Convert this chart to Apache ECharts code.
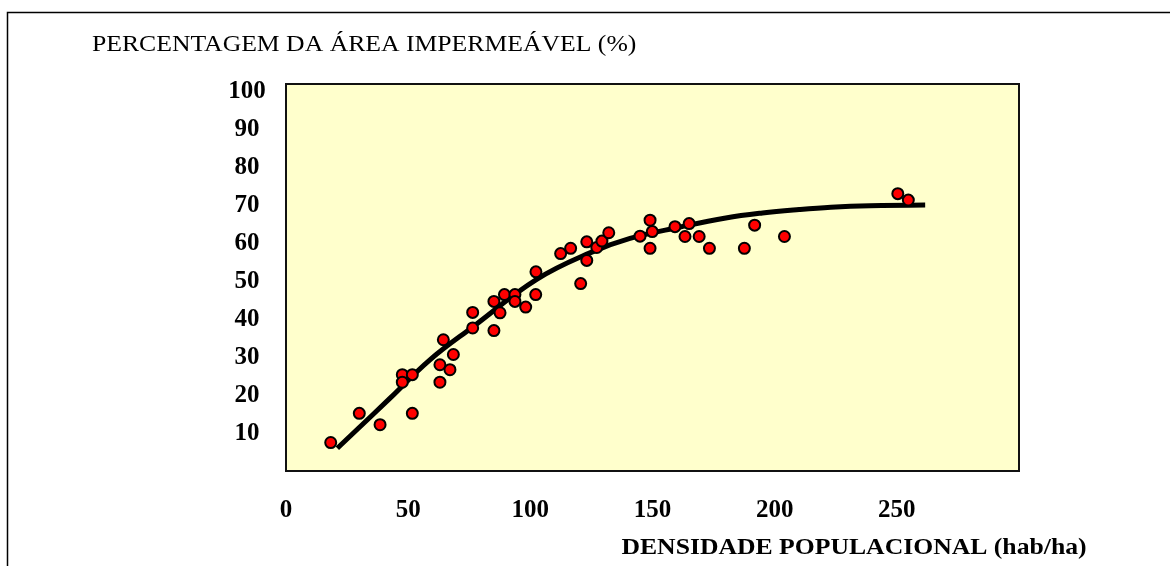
<!DOCTYPE html>
<html>
<head>
<meta charset="utf-8">
<script src="https://cdn.jsdelivr.net/npm/echarts@6/dist/echarts.min.js"></script>
<style>
html,body{margin:0;padding:0;background:#fff;}
#c{width:1170px;height:566px;}
</style>
</head>
<body>
<div id="c"></div>
<script>
// Observed points: population density (hab/ha) vs impervious area (%)
const densidade = [18.3, 30.0, 38.5, 51.7, 47.6, 51.7, 47.6, 63.0, 67.1, 63.0,
  64.4, 68.5, 76.4, 76.4, 85.1, 85.1, 87.6, 89.4, 93.7, 93.7,
  98.1, 102.2, 102.3, 112.4, 116.5, 120.6, 123.1, 123.1, 127.2, 129.3,
  132.1, 144.9, 149.0, 149.9, 149.0, 159.2, 165.0, 163.3, 169.1, 173.3,
  187.6, 191.8, 204.0, 250.4, 254.7];
const impermeavel = [7.5, 15.2, 12.2, 15.2, 25.4, 25.4, 23.4, 28.0, 26.7, 23.4,
  34.6, 30.7, 41.8, 37.7, 37.0, 44.7, 41.7, 46.5, 46.5, 44.7,
  43.2, 46.5, 52.5, 57.3, 58.7, 49.4, 60.4, 55.5, 58.9, 60.6,
  62.8, 61.9, 66.1, 63.1, 58.7, 64.4, 65.2, 61.8, 61.8, 58.7,
  58.7, 64.8, 61.8, 73.1, 71.4];
// Fitted curve
const curvaX = [21.0, 42.6, 58.9, 76.7, 102.6, 124.4, 140.8, 161.3, 180.0, 195.0, 210.0, 223.0, 239.0, 261.6];
const curvaY = [6.0, 19.2, 29.3, 38.1, 50.5, 57.5, 61.3, 64.3, 66.7, 68.0, 68.9, 69.5, 69.9, 70.1];
const xTicks = [0, 50, 100, 150, 200, 250];
const yTicks = [10, 20, 30, 40, 50, 60, 70, 80, 90, 100];
const tituloY = 'PERCENTAGEM DA ÁREA IMPERMEÁVEL (%)';
const tituloX = 'DENSIDADE POPULACIONAL (hab/ha)';

const pts = densidade.map((x, i) => [x, impermeavel[i]]);
const curve = curvaX.map((x, i) => [x, curvaY[i]]);
const serif = '"Liberation Serif", "Times New Roman", serif';

const chart = echarts.init(document.getElementById('c'), null, {renderer: 'canvas'});
chart.setOption({
  animation: false,
  backgroundColor: '#ffffff',
  grid: {
    left: 286, top: 84, right: 151, bottom: 95,
    show: true, backgroundColor: '#FFFFCC', borderColor: '#111', borderWidth: 2
  },
  xAxis: {
    type: 'value', min: 0, max: 300, interval: 50,
    axisLine: {show: false}, axisTick: {show: false}, splitLine: {show: false},
    axisLabel: {
      color: '#000', fontFamily: serif, fontWeight: 'bold', fontSize: 25, margin: 27,
      formatter: v => xTicks.includes(v) ? String(v) : ''
    }
  },
  yAxis: {
    type: 'value', min: 0, max: 102, interval: 10,
    axisLine: {show: false}, axisTick: {show: false}, splitLine: {show: false},
    axisLabel: {
      color: '#000', fontFamily: serif, fontWeight: 'bold', fontSize: 25, margin: 39, align: 'center',
      padding: [6, 0, 0, 0],
      formatter: v => yTicks.includes(v) ? String(v) : ''
    }
  },
  graphic: [
    {type: 'rect', shape: {x: 7.5, y: 12.5, width: 1300, height: 700}, style: {fill: 'none', stroke: '#000', lineWidth: 1.5}, silent: true},
    {type: 'text', x: 92, y: 45, scaleX: 1.07, style: {text: tituloY, font: '24px ' + serif, fill: '#000', textVerticalAlign: 'middle'}},
    {type: 'text', x: 854, y: 548, scaleX: 1.07, style: {text: tituloX, font: 'bold 24px ' + serif, fill: '#000', textAlign: 'center', textVerticalAlign: 'middle'}}
  ],
  series: [
    {
      type: 'line', data: curve, smooth: 0.4, showSymbol: false, symbol: 'none',
      lineStyle: {color: '#000', width: 5}, z: 2
    },
    {
      type: 'scatter', data: pts, symbol: 'circle', symbolSize: 11,
      itemStyle: {color: '#FF0000', borderColor: '#000', borderWidth: 2, opacity: 1}, z: 3
    }
  ]
});
</script>
</body>
</html>
